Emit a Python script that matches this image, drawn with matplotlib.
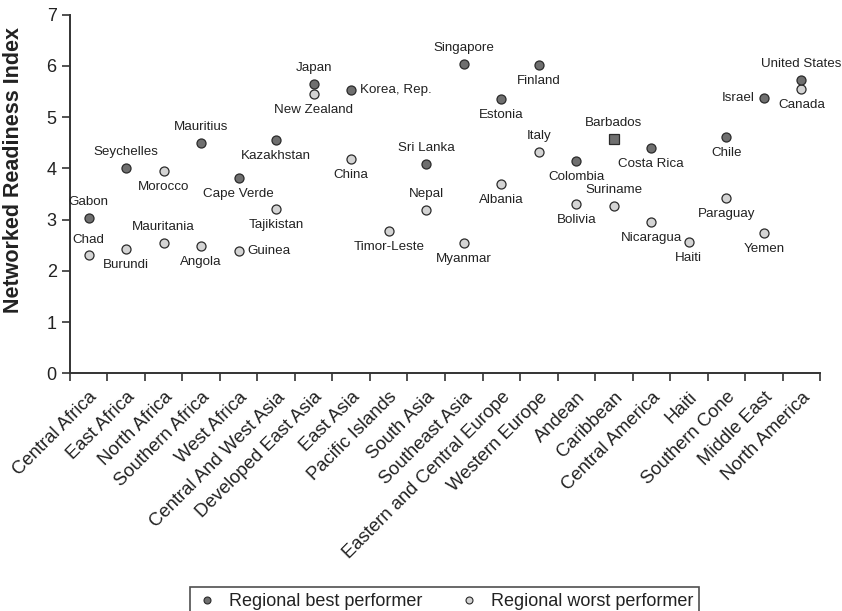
import matplotlib
matplotlib.use("Agg")
import matplotlib.pyplot as plt
from matplotlib.lines import Line2D

plt.rcParams['font.family'] = ['Liberation Sans', 'DejaVu Sans']

regions = ["Central Africa", "East Africa", "North Africa", "Southern Africa", "West Africa",
           "Central And West Asia", "Developed East Asia", "East Asia", "Pacific Islands",
           "South Asia", "Southeast Asia", "Eastern and Central Europe", "Western Europe",
           "Andean", "Caribbean", "Central America", "Haiti", "Southern Cone",
           "Middle East", "North America"]

best_country = ["Gabon", "Seychelles", "Morocco", "Mauritius", "Cape Verde", "Kazakhstan",
                "Japan", "Korea, Rep.", None, "Sri Lanka", "Singapore", "Estonia", "Finland",
                "Colombia", "Barbados", "Costa Rica", None, "Chile", "Israel", "United States"]
best_value = [3.04, 4.00, 3.94, 4.49, 3.81, 4.55, 5.65, 5.53, None, 4.09, 6.03, 5.35, 6.01,
              4.14, 4.57, 4.40, None, 4.61, 5.37, 5.73]

worst_country = ["Chad", "Burundi", "Mauritania", "Angola", "Guinea", "Tajikistan",
                 "New Zealand", "China", "Timor-Leste", "Nepal", "Myanmar", "Albania", "Italy",
                 "Bolivia", "Suriname", "Nicaragua", "Haiti", "Paraguay", "Yemen", "Canada"]
worst_value = [2.30, 2.43, 2.54, 2.49, 2.39, 3.21, 5.46, 4.18, 2.78, 3.18, 2.54, 3.70, 4.32,
               3.31, 3.27, 2.95, 2.56, 3.42, 2.73, 5.54]

# label placement: u=above, d=below, r=right, l=left
place = {"Gabon": "u", "Chad": "u", "Seychelles": "u", "Burundi": "d", "Morocco": "d",
         "Mauritania": "u", "Mauritius": "u", "Angola": "d", "Cape Verde": "d", "Guinea": "r",
         "Kazakhstan": "d", "Tajikistan": "d", "Japan": "u", "New Zealand": "d",
         "Korea, Rep.": "r", "China": "d", "Timor-Leste": "d", "Sri Lanka": "u", "Nepal": "u",
         "Singapore": "u", "Myanmar": "d", "Estonia": "d", "Albania": "d", "Finland": "d",
         "Italy": "u", "Colombia": "d", "Bolivia": "d", "Barbados": "u", "Suriname": "u",
         "Costa Rica": "d", "Nicaragua": "d", "Haiti": "d", "Chile": "d", "Paraguay": "d",
         "Israel": "l", "Yemen": "d", "United States": "u", "Canada": "d"}

DARK = "#6f6f6f"
LIGHT = "#d4d4d4"
EDGE = "#2a2a2a"
TXT = "#222222"
light_best = {"Morocco"}
square_best = {"Barbados"}

fig = plt.figure(figsize=(8.42, 6.11), dpi=100)
ax = fig.add_axes([0.083, 0.389, 0.891, 0.587])

x = list(range(len(regions)))

def annotate(name, xi, yi):
    p = place[name]
    if p == "u":
        off, ha, va = (0, 11.5), "center", "center"
    elif p == "d":
        off, ha, va = (0, -11.5), "center", "center"
    elif p == "r":
        off, ha, va = (6.5, 0), "left", "center"
    else:
        off, ha, va = (-6.5, 0), "right", "center"
    ax.annotate(name, (xi, yi), xytext=off, textcoords="offset points",
                ha=ha, va=va, fontsize=9.6, color=TXT)

for xi, name, v in zip(x, worst_country, worst_value):
    if v is None:
        continue
    ax.plot(xi, v, marker="o", ms=6.5, mfc=LIGHT, mec=EDGE, mew=0.9, ls="none", zorder=3)
    annotate(name, xi, v)

for xi, name, v in zip(x, best_country, best_value):
    if v is None:
        continue
    fc = LIGHT if name in light_best else DARK
    mk = "s" if name in square_best else "o"
    ax.plot(xi, v, marker=mk, ms=6.5, mfc=fc, mec=EDGE, mew=0.9, ls="none", zorder=3)
    annotate(name, xi, v)

ax.set_xlim(-0.5, len(regions) - 0.5)
ax.set_ylim(0, 7)
ax.set_yticks(range(0, 8))
ax.set_xticks(x)
ax.set_xticklabels(regions, rotation=45, ha="right", rotation_mode="anchor",
                   fontsize=13.3, color=TXT)
ax.set_xticks([i - 0.5 for i in range(len(regions) + 1)], minor=True)
ax.tick_params(axis="x", which="major", length=0, pad=11)
ax.tick_params(axis="x", which="minor", length=6, width=1.2, color="#333333", direction="out")
ax.tick_params(axis="y", length=6, width=1.2, color="#333333", labelsize=13,
               labelcolor=TXT, direction="out")
for s in ["top", "right"]:
    ax.spines[s].set_visible(False)
for s in ["left", "bottom"]:
    ax.spines[s].set_color("#333333")
    ax.spines[s].set_linewidth(1.4)
ax.set_ylabel("Networked Readiness Index", fontsize=15.5, fontweight="bold", color=TXT)
ax.yaxis.set_label_coords(-0.061, 0.567)

handles = [Line2D([], [], marker="o", ls="none", ms=5, mfc=DARK, mec=EDGE, mew=0.8),
           Line2D([], [], marker="o", ls="none", ms=5, mfc=LIGHT, mec=EDGE, mew=0.8)]
leg = fig.legend(handles, ["Regional best performer", "Regional worst performer"],
                 loc="upper center", bbox_to_anchor=(0.528, 0.054), ncol=2, fontsize=13,
                 frameon=True, fancybox=False, edgecolor="#222222", columnspacing=2.0,
                 handletextpad=0.6, borderpad=0.35, handlelength=1.2)
leg.get_frame().set_linewidth(1.2)
for t in leg.get_texts():
    t.set_color(TXT)

fig.savefig("out.png", dpi=100)
